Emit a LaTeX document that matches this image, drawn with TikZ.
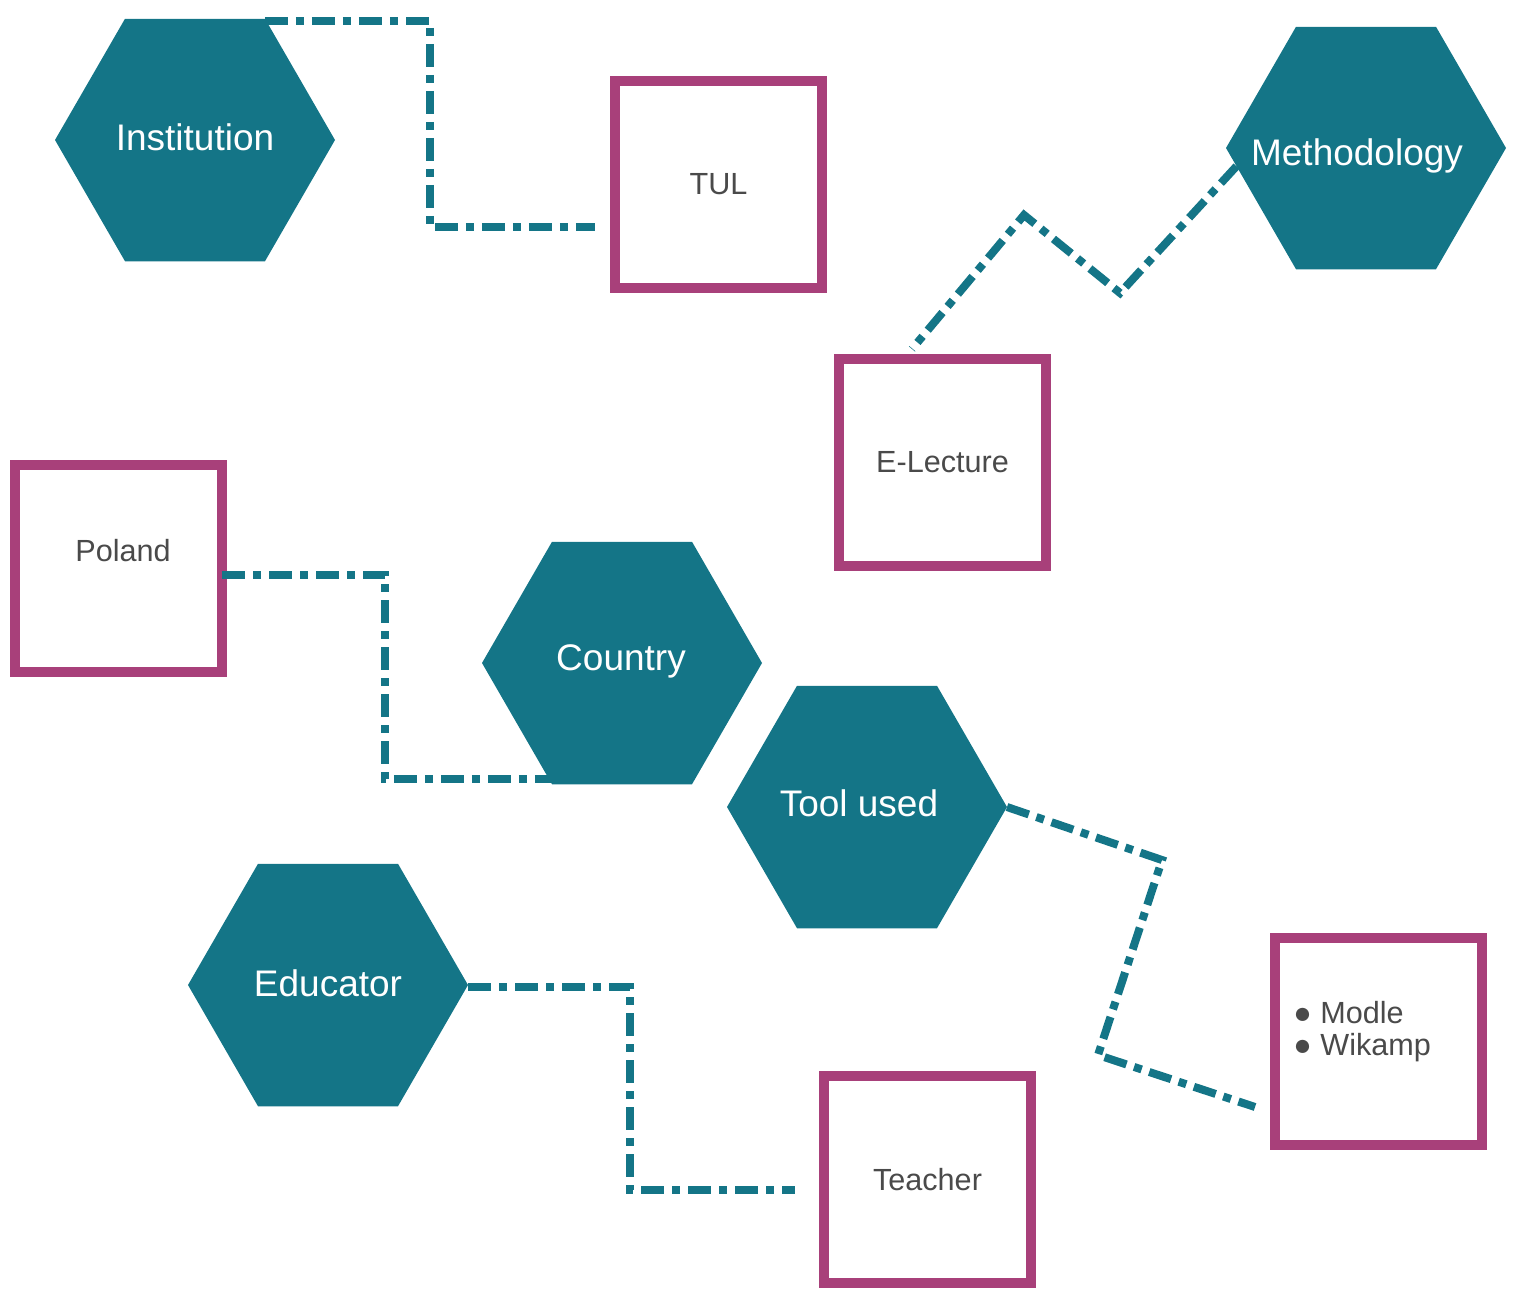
\documentclass[tikz,border=0pt]{standalone}
\usepackage{fontspec}
\setmainfont{Liberation Sans}
\usetikzlibrary{shapes.geometric}
\definecolor{teal1}{HTML}{147587}
\definecolor{mag1}{HTML}{A8407A}
\definecolor{txt1}{HTML}{4A4A4A}
\begin{document}
\begin{tikzpicture}[x=0.5pt,y=-0.5pt,
  hexbox/.style={regular polygon, regular polygon sides=6, minimum size=140pt, inner sep=0pt, outer sep=0pt, fill=teal1, draw=none},
  hextext/.style={text=white, font=\fontsize{18.5}{22}\selectfont, inner sep=0pt},
  sqbox/.style={rectangle, minimum size=103.5pt, inner sep=0pt, outer sep=0pt, draw=mag1, line width=5pt, fill=white, text=txt1, font=\fontsize{15.3}{18}\selectfont},
  conn/.style={draw=teal1, line width=4pt, dash pattern=on 11.5pt off 4pt on 4pt off 4pt}]
\useasboundingbox (0,0) rectangle (1516,1291);
% hexagons
\node[hexbox] (inst) at (195,140) {};
\node[hexbox] (meth) at (1366,148) {};
\node[hexbox] (country) at (622,663) {};
\node[hexbox] (tool) at (867,807) {};
\node[hexbox] (edu) at (328,985) {};
\node[hextext] (insttxt) at (195,137) {Institution};
\node[hextext] (methtxt) at (1357,156) {Methodology};
\node[hextext] (countrytxt) at (621,661) {Country};
\node[hextext] (tooltxt) at (859,803) {Tool used};
\node[hextext] (edutxt) at (328,983) {Educator};
% squares
\node[sqbox] (tul) at (718.5,184) {TUL};
\node[sqbox] (elec) at (942.5,462.5) {E-Lecture};
\node[sqbox] (poland) at (118.5,568) {};
\node[text=txt1, font=\fontsize{15.3}{18}\selectfont] (polandtxt) at (123,551) {Poland};
\node[sqbox] (tools) at (1378.5,1041) {};
\node[text=txt1, font=\fontsize{15.3}{16}\selectfont, align=left, anchor=west, inner sep=0pt] (toolstxt) at (1293,1032) {● Modle\\● Wikamp};
\node[sqbox] (teacher) at (927.5,1179.5) {Teacher};
% bends and free ends
\coordinate (b1) at (430,227);
\coordinate (e1) at (595,227);
\coordinate (e2) at (912,349);
\coordinate (b3) at (385,575);
\coordinate (b5) at (630,1190);
\coordinate (e4) at (1255,1107);
\coordinate (e5) at (795,1190);
% connectors
\draw[conn] ([yshift=-1pt]inst.60) -| (b1) -- (e1);
\draw[conn] (meth.188) -- (1120,293) -- (1024,215) -- (e2);
\draw[conn] ([yshift=-3.5pt]poland.east) -- (b3) |- ([yshift=2.5pt]country.240);
\draw[conn] (tool.east) -- (1162,860) -- (1098,1055) -- (e4);
\draw[conn] ([yshift=-1pt]edu.east) -| (b5) -- (e5);
\end{tikzpicture}
\end{document}
